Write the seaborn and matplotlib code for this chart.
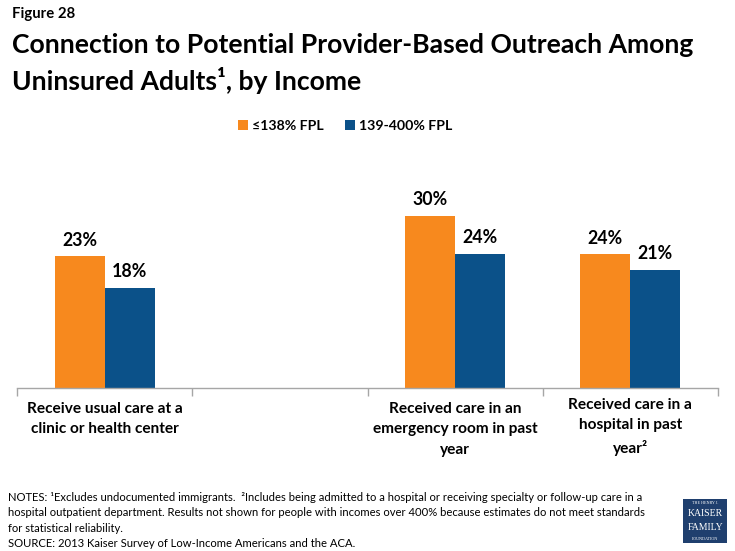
import matplotlib
matplotlib.use("Agg")
import matplotlib.pyplot as plt
import seaborn as sns
import pandas as pd
from matplotlib.patches import Rectangle, Patch

categories = ["Receive usual care at a\nclinic or health center",
              "Received care in an\nemergency room in past\nyear",
              "Received care in a\nhospital in past\nyear²"]
slot_order = [categories[0], " ", categories[1], categories[2]]
series_names = ["≤138% FPL", "139-400% FPL"]
low_income = [23.2, 30.4, 23.6]
mid_income = [17.7, 23.7, 20.8]
colors = ["#F7891E", "#0B5189"]

df = pd.DataFrame({
    "category": categories * 2,
    "group": [series_names[0]] * 3 + [series_names[1]] * 3,
    "value": low_income + mid_income,
})

sns.set_theme(style="white")
FAM = ["Lato", "DejaVu Sans"]
plt.rcParams["font.family"] = FAM
plt.rcParams["text.color"] = "black"

fig = plt.figure(figsize=(7.35, 5.51), dpi=100)
renderer = fig.canvas.get_renderer()

def fit(t, target_px):
    w = t.get_window_extent(renderer=renderer).width
    t.set_fontsize(t.get_fontsize() * target_px / w)
    return t

ax = fig.add_axes([17/735, 1-388/551, (718-17)/735, 198.5/551])

sns.barplot(data=df, x="category", y="value", hue="group", order=slot_order,
            hue_order=series_names, palette=colors, width=0.57, gap=0,
            saturation=1, ax=ax, edgecolor="none", linewidth=0)

ax.set_ylim(0, 35)
ax.set_xlim(-0.5, 3.5)
ax.set_xlabel("")
ax.set_ylabel("")
ax.set_yticks([])
for s in ["top", "right", "left"]:
    ax.spines[s].set_visible(False)
ax.spines["bottom"].set_color("#A6A6A6")
ax.spines["bottom"].set_linewidth(1)

ax.set_xticks(range(4))
ax.set_xticklabels([])
ax.tick_params(axis="x", which="major", length=0)
ax.set_xticks([-0.5, 0.5, 1.5, 2.5, 3.5], minor=True)
ax.tick_params(axis="x", which="minor", length=6, color="#A6A6A6", width=1, direction="out", bottom=True)

# category labels
label_y = {0: 402, 2: 402, 3: 398}
cat_texts = []
for pos, lab in zip([0, 2, 3], categories):
    t = fig.text((17 + (pos + 0.5) * 175.25)/735, 1 - label_y[pos]/551, lab,
                 ha="center", va="top", fontsize=12.5, fontweight="bold",
                 linespacing=1.58, family=FAM)
    cat_texts.append(t)
fit(cat_texts[0], 156)
for t in cat_texts[1:]:
    t.set_fontsize(cat_texts[0].get_fontsize())

# value labels
vals = []
for cont in ax.containers:
    for bar in cont:
        h = bar.get_height()
        if pd.isna(h) or h == 0:
            continue
        a = ax.annotate(f"{h:.0f}%", (bar.get_x() + bar.get_width()/2, h),
                        xytext=(0, 5.5), textcoords="offset points",
                        ha="center", va="bottom", fontsize=13.5, fontweight="bold",
                        family=FAM)
        vals.append(a)
fit(vals[0], 35)
for a in vals[1:]:
    a.set_fontsize(vals[0].get_fontsize())

leg = ax.get_legend()
if leg is not None:
    leg.remove()
handles = [Patch(facecolor=c, edgecolor="none") for c in colors]
probe = fig.text(0, 0, series_names[0], fontsize=11, fontweight="bold", family=FAM)
fit(probe, 72)
lsize = probe.get_fontsize()
probe.remove()
fig.legend(handles, series_names, loc="center", bbox_to_anchor=(345/735, 1-126/551),
           ncol=2, frameon=False, handlelength=0.7, handleheight=0.7,
           handletextpad=0.3, columnspacing=1.5, prop={"family": FAM, "weight": "bold", "size": lsize})

t = fig.text(12/735, 1-14/551, "Figure 28", ha="left", va="center", fontsize=11.5,
             fontweight="bold", family=FAM)
fit(t, 63)
t1 = fig.text(12/735, 1-45/551, "Connection to Potential Provider-Based Outreach Among",
              ha="left", va="center", fontsize=20, fontweight="bold", family=FAM)
fit(t1, 680)
fig.text(12/735, 1-80/551, "Uninsured Adults¹, by Income",
         ha="left", va="center", fontsize=t1.get_fontsize(), fontweight="bold", family=FAM)

notes_lines = ["NOTES: ¹Excludes undocumented immigrants.  ²Includes being admitted to a hospital or receiving specialty or follow-up care in a",
               "hospital outpatient department. Results not shown for people with incomes over 400% because estimates do not meet standards",
               "for statistical reliability.",
               "SOURCE: 2013 Kaiser Survey of Low-Income Americans and the ACA."]
probe = fig.text(0, 0, notes_lines[0], fontsize=8, family=FAM)
fit(probe, 639)
nsize = probe.get_fontsize()
probe.remove()
for i, line in enumerate(notes_lines):
    fig.text(8/735, 1-(497.5 + i*15.3)/551, line, ha="left", va="center", fontsize=nsize, family=FAM)

# logo
fig.patches.append(Rectangle((683/735, 1-543/551), 44/735, 44/551, transform=fig.transFigure,
                             facecolor="#1F3F6E", edgecolor="none"))
fig.text(705/735, 1-503/551, "THE HENRY J.", ha="center", va="center", fontsize=3,
         color="white", family="Liberation Serif")
fig.text(705/735, 1-514/551, "KAISER", ha="center", va="center", fontsize=7,
         color="white", family="Liberation Serif")
fig.text(705/735, 1-527/551, "FAMILY", ha="center", va="center", fontsize=7,
         color="white", family="Liberation Serif")
fig.text(705/735, 1-539/551, "FOUNDATION", ha="center", va="center", fontsize=3,
         color="white", family="Liberation Serif")

fig.savefig("out.png", dpi=100)
